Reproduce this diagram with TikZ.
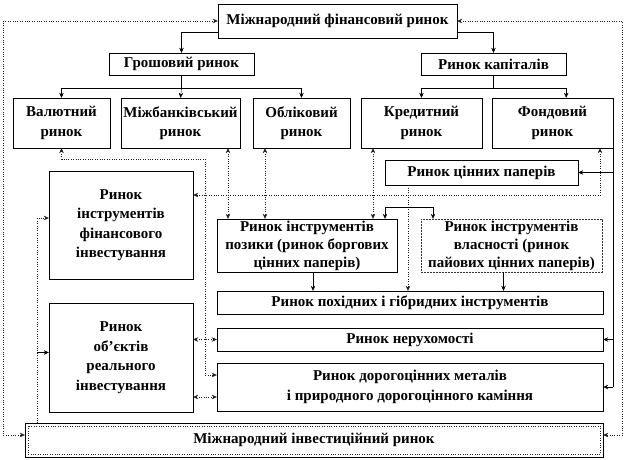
\documentclass[tikz,border=0pt]{standalone}
\usepackage{fontspec}
\setmainfont{Liberation Serif}
\newfontfamily\diagfont{Liberation Serif}
\usepackage{xcolor}
\definecolor{cLine}{HTML}{000000}
\definecolor{cDot}{HTML}{1A1A1A}
\usetikzlibrary{positioning,arrows.meta}
\tikzset{
  node-box/.style={draw=cLine,thin,inner sep=0pt,align=center,
    font=\diagfont\fontsize{15}{19.5}\selectfont\bfseries},
  node-size/.style 2 args={minimum width=#1pt,minimum height=#2pt},
  node-tight/.style={font=\diagfont\fontsize{15}{18}\selectfont\bfseries},
  node-equity/.style={draw=cLine!80,dash pattern=on 2pt off 1pt},
  line-tree/.style={thin,draw=cLine},
  arrow/.style={-{Stealth[length=5pt,width=4.5pt]},thin,draw=cLine},
  arrow-dot/.style={-{Stealth[length=5pt,width=4.5pt]},thin,dotted,draw=cDot},
  arrow-both/.style={{Stealth[length=5pt,width=4.5pt]}-{Stealth[length=5pt,width=4.5pt]},
    thin,dotted,draw=cDot},
}

\begin{document}
\begin{tikzpicture}[x=1pt,y=-1pt]
  \useasboundingbox (0,0) rectangle (626,460);
  % верхні рівні
  \node[node-box,node-size={239}{34}] (fin) at (337.5,21) {Міжнародний фінансовий ринок};
  \node[node-box,node-size={145}{22}] (money) at (181.5,64) {Грошовий ринок};
  \node[node-box,node-size={145}{22}] (capital) at (493.5,64) {Ринок капіталів};
  \node[node-box,node-size={97}{50}] (currency) at (61.5,123) {Валютний\\ринок};
  \node[node-box,node-size={119}{50}] (interbank) at (180.5,123) {Міжбанківський\\ринок};
  \node[node-box,node-size={97}{50}] (discount) at (301.5,123) {Обліковий\\ринок};
  \node[node-box,node-size={121}{50}] (credit) at (421.5,123) {Кредитний\\ринок};
  \node[node-box,node-size={121}{50}] (stock) at (552.5,123) {Фондовий\\ринок};
  \node[node-box,node-size={193}{25}] (securities) at (481.5,172.5) {Ринок цінних паперів};
  % інвестиційні ринки
  \node[node-box,node-size={144}{108}] (fininv) at (121,225) {Ринок\\інструментів\\фінансового\\інвестування};
  \node[node-box,node-size={144}{109}] (realinv) at (121,357.5) {Ринок\\об’єктів\\реального\\інвестування};
  \node[node-box,node-tight,node-size={180}{53}] (loan) at (307,245.5) {Ринок інструментів\\позики (ринок боргових\\цінних паперів)};
  \node[node-box,node-tight,node-equity,node-size={181}{53}] (equity) at (511.5,245.5) {Ринок інструментів\\власності (ринок\\пайових цінних паперів)};
  \node[node-box,node-size={386}{23}] (derivatives) at (410,302.5) {Ринок похідних і гібридних інструментів};
  \node[node-box,node-size={386}{23}] (realty) at (410,339.5) {Ринок нерухомості};
  \node[node-box,node-size={386}{48}] (metals) at (410,387) {Ринок дорогоцінних металів\\і природного дорогоцінного каміння};
  \node[node-box,node-size={578}{34}] (intl) at (314,440) {Міжнародний інвестиційний ринок};
  \draw[cDot,dotted] ([shift={(3pt,-3pt)}]intl.north west) rectangle ([shift={(-3pt,3pt)}]intl.south east);

  % допоміжні точки
  \coordinate (money-fork) at (181.5,88);
  \coordinate (capital-fork) at (493.5,88);
  \coordinate (fork-l) at (385,207);
  \coordinate (fork-r) at (433,207);
  \coordinate (sec-x) at (408,0);
  \coordinate (rail-r) at (600,195);
  \coordinate (rail-l) at (37,218);
  \coordinate (rail-v) at (205,159);
  \coordinate (ib-x) at (228,0);
  \coordinate (disc-x) at (265,0);
  \coordinate (cred-x) at (373,0);

  % зовнішній контур
  \draw[arrow-both] (fin.west) -- ++(-215,0) |- ([yshift=5pt]intl.west);
  \draw[arrow-both] (fin.east) -- ++(165,0) |- ([yshift=5pt]intl.east);

  % дерево
  \draw[arrow] ([yshift=-11pt]fin.west) -| (money.north);
  \draw[arrow] ([yshift=-11pt]fin.east) -| (capital.north);
  \draw[line-tree] (money.south) -- (money-fork);
  \draw[arrow] (money-fork) -| (currency.north);
  \draw[arrow] (money-fork) -| (discount.north);
  \draw[arrow] (money-fork) -- (interbank.north);
  \draw[line-tree] (capital.south) -- (capital-fork);
  \draw[arrow] (capital-fork) -| (credit.north);
  \draw[arrow] (capital-fork) -| (stock.north -| capital.east);

  % фондовий ринок
  \draw[line-tree] (stock.south east) -- (stock.south east |- metals.east);
  \draw[arrow] (stock.south east |- securities.east) -- (securities.east);
  \draw[arrow] (stock.south east |- realty.east) -- (realty.east);
  \draw[arrow] (stock.south east |- metals.east) -- (metals.east);
  \draw[arrow-both] (stock.south -| rail-r) -- (rail-r) -- (fininv.east |- rail-r);

  % ринок цінних паперів
  \draw[arrow-dot] (securities.south -| sec-x) -- (derivatives.north -| sec-x);
  \draw[line-tree] (fork-l) -- (fork-r);
  \draw[arrow] (fork-l) -- (fork-l |- loan.north);
  \draw[arrow] (fork-r) -- (fork-r |- equity.north);
  \draw[arrow] ([xshift=6pt]loan.south) -- ([xshift=6pt]loan.south |- derivatives.north);
  \draw[arrow] ([xshift=-8pt]equity.south) -- ([xshift=-8pt]equity.south |- derivatives.north);

  % зв'язки з ринком позики
  \draw[arrow-both] (interbank.south -| ib-x) -- (loan.north -| ib-x);
  \draw[arrow-both] (discount.south -| disc-x) -- (loan.north -| disc-x);
  \draw[arrow-both] (credit.south -| cred-x) -- (loan.north -| cred-x);
  \draw[arrow-both] (currency.south) |- (rail-v) |- ([yshift=12pt]metals.west);

  % реальне інвестування
  \draw[arrow-both] (realinv.east |- realty.west) -- (realty.west);
  \draw[arrow-both] ([yshift=-10pt]metals.west -| realinv.east) -- ([yshift=-10pt]metals.west);
  \draw[arrow-dot] (intl.north -| rail-l) -- (rail-l) -- (fininv.west |- rail-l);
  \draw[arrow] ([yshift=5pt]realinv.west -| rail-l) -- ([yshift=5pt]realinv.west);
\end{tikzpicture}
\end{document}
